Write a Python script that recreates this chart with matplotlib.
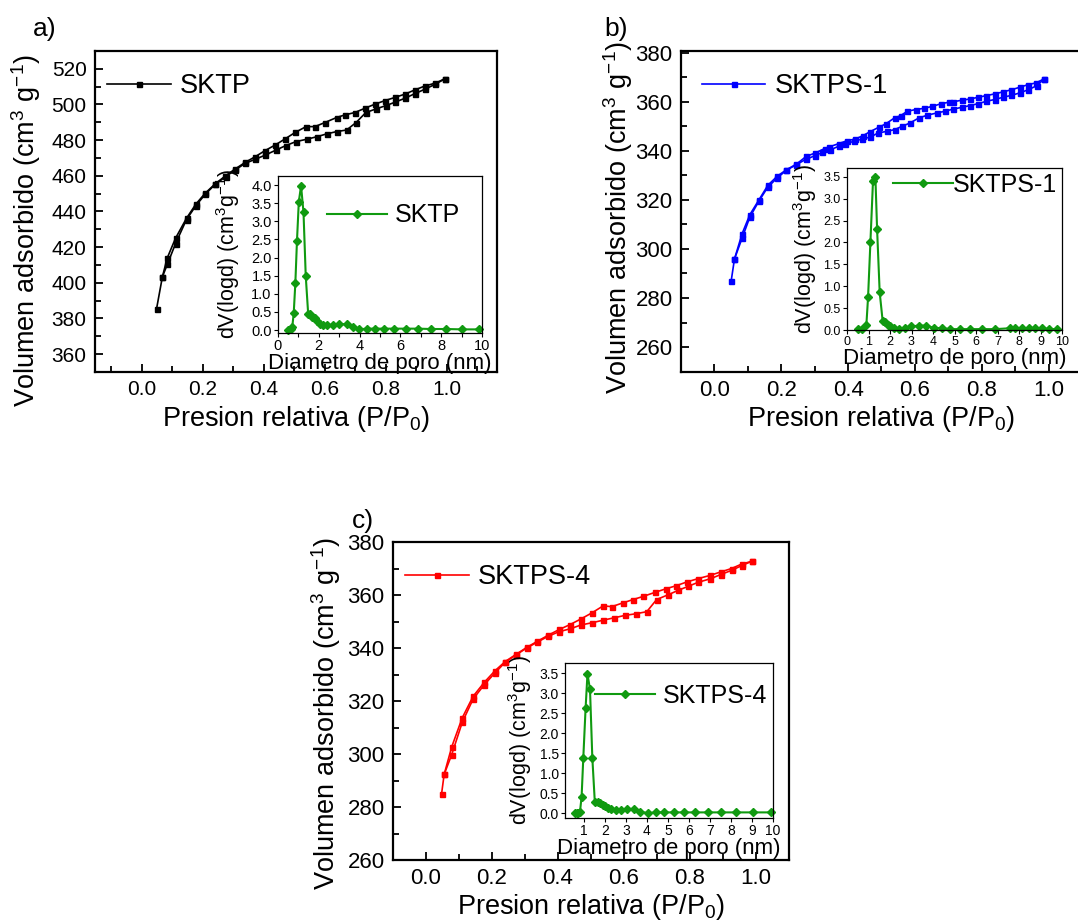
import numpy as np
import matplotlib
matplotlib.use('Agg')
import matplotlib.pyplot as plt
from matplotlib.ticker import MultipleLocator

plt.rcParams['font.family'] = 'Liberation Sans'
plt.rcParams['mathtext.fontset'] = 'custom'
plt.rcParams['mathtext.rm'] = 'Liberation Sans'
plt.rcParams['mathtext.it'] = 'Liberation Sans:italic'

# Isotherm data (P/P0, volume adsorbed)
a_ads_p = [0.048, 0.067, 0.083, 0.110, 0.146, 0.177, 0.207, 0.240, 0.274, 0.306, 0.338, 0.372, 0.405, 0.440, 0.472,
           0.505, 0.540, 0.575, 0.605, 0.638, 0.671, 0.702, 0.734, 0.767, 0.800, 0.830, 0.862, 0.895, 0.928, 0.962, 0.993]
a_ads_v = [385.6, 403.4, 410.3, 422.0, 435.5, 443.3, 449.6, 455.2, 459.5, 463.3, 467.0, 469.3, 471.7, 474.5, 477.0,
           479.2, 480.5, 482.0, 483.5, 484.8, 485.7, 489.9, 495.5, 497.5, 499.4, 501.3, 503.5, 506.1, 508.6, 511.4, 514.4]
a_des_p = [0.993, 0.962, 0.928, 0.895, 0.862, 0.830, 0.797, 0.764, 0.731, 0.698, 0.666, 0.638, 0.600, 0.567, 0.538,
           0.502, 0.469, 0.437, 0.403, 0.372, 0.339, 0.306, 0.273, 0.240, 0.207, 0.177, 0.146, 0.110, 0.083, 0.067]
a_des_v = [514.4, 512.0, 510.4, 508.2, 505.8, 504.0, 502.2, 500.2, 497.9, 495.5, 494.2, 492.7, 489.9, 487.6, 487.6,
           484.3, 480.7, 477.3, 474.1, 470.8, 467.6, 463.9, 459.9, 455.5, 450.2, 444.2, 436.2, 425.0, 414.0, 403.4]

b_ads_p = [0.050, 0.060, 0.083, 0.106, 0.133, 0.160, 0.188, 0.215, 0.245, 0.275, 0.302, 0.322, 0.347, 0.372, 0.392,
           0.417, 0.442, 0.467, 0.489, 0.515, 0.539, 0.562, 0.585, 0.612, 0.637, 0.665, 0.689, 0.715, 0.740, 0.764,
           0.789, 0.814, 0.839, 0.863, 0.889, 0.914, 0.939, 0.966, 0.986]
b_ads_v = [286.8, 295.9, 304.5, 313.0, 319.5, 325.3, 329.0, 332.1, 334.4, 336.7, 338.1, 339.4, 340.5, 341.9, 343.0,
           343.9, 344.9, 345.7, 347.3, 348.0, 348.7, 350.1, 351.4, 353.5, 354.6, 355.5, 356.2, 357.1, 357.8, 358.5,
           359.3, 360.3, 361.0, 361.9, 362.7, 363.7, 365.0, 366.7, 369.4]
b_des_p = [0.986, 0.963, 0.939, 0.914, 0.889, 0.863, 0.839, 0.814, 0.789, 0.764, 0.740, 0.715, 0.702, 0.679, 0.652,
           0.627, 0.602, 0.577, 0.557, 0.539, 0.512, 0.492, 0.465, 0.445, 0.422, 0.397, 0.372, 0.342, 0.330, 0.302,
           0.275, 0.245, 0.215, 0.188, 0.160, 0.133, 0.106, 0.083, 0.060]
b_des_v = [369.4, 367.8, 367.1, 366.0, 365.0, 364.1, 363.3, 362.6, 361.9, 361.2, 360.7, 360.1, 359.9, 359.3, 358.2,
           357.4, 356.9, 356.2, 354.4, 353.5, 351.0, 349.7, 347.8, 346.3, 344.9, 344.2, 343.0, 341.6, 341.0, 339.2,
           337.8, 334.6, 332.3, 329.7, 326.0, 320.0, 314.0, 306.3, 295.9]

c_ads_p = [0.047, 0.055, 0.078, 0.110, 0.143, 0.177, 0.209, 0.240, 0.273, 0.305, 0.337, 0.370, 0.404, 0.436, 0.470,
           0.502, 0.537, 0.570, 0.603, 0.635, 0.669, 0.699, 0.734, 0.765, 0.795, 0.825, 0.861, 0.893, 0.926, 0.957, 0.987]
c_ads_v = [284.8, 292.3, 299.8, 312.0, 320.8, 326.2, 330.6, 334.6, 337.4, 340.0, 342.2, 344.4, 346.2, 347.2, 348.7,
           349.5, 350.5, 351.4, 352.3, 352.9, 353.7, 358.3, 360.1, 361.8, 363.3, 364.8, 366.1, 367.7, 369.3, 371.1, 372.7]
c_des_p = [0.987, 0.957, 0.926, 0.893, 0.861, 0.825, 0.790, 0.758, 0.726, 0.694, 0.659, 0.628, 0.596, 0.563, 0.537,
           0.502, 0.470, 0.436, 0.404, 0.370, 0.337, 0.305, 0.273, 0.240, 0.209, 0.177, 0.143, 0.110, 0.078, 0.055]
c_des_v = [372.7, 371.7, 370.0, 368.7, 367.4, 366.2, 364.9, 363.5, 362.3, 361.0, 359.5, 358.3, 357.0, 355.6, 355.9,
           353.2, 351.0, 348.8, 347.0, 344.8, 342.5, 340.2, 337.6, 334.9, 331.4, 327.1, 321.8, 313.7, 302.7, 292.3]

# Pore size distributions (diameter nm, dV(logd))
a_psd_d = [0.49, 0.62, 0.70, 0.77, 0.85, 0.93, 1.02, 1.13, 1.25, 1.36, 1.48, 1.59, 1.69, 1.80, 1.92, 2.05, 2.21, 2.41,
           2.70, 3.00, 3.36, 3.66, 3.98, 4.34, 4.75, 5.21, 5.70, 6.26, 6.85, 7.50, 8.23, 9.03, 9.87]
a_psd_v = [0.01, 0.03, 0.09, 0.46, 1.29, 2.46, 3.54, 3.98, 3.25, 1.49, 0.44, 0.44, 0.37, 0.32, 0.26, 0.18, 0.14, 0.14,
           0.14, 0.17, 0.16, 0.09, 0.02, 0.04, 0.04, 0.04, 0.04, 0.04, 0.04, 0.03, 0.03, 0.02, 0.02]

b_psd_d = [0.50, 0.70, 0.90, 0.98, 1.09, 1.21, 1.32, 1.40, 1.52, 1.66, 1.78, 1.89, 2.02, 2.20, 2.43, 2.68, 2.98, 3.33,
           3.69, 4.03, 4.42, 4.81, 5.24, 5.74, 6.28, 6.90, 7.57, 7.83, 8.14, 8.45, 8.76, 9.07, 9.38, 9.77]
b_psd_v = [0.02, 0.02, 0.11, 0.75, 2.02, 3.41, 3.50, 2.30, 0.86, 0.20, 0.18, 0.11, 0.08, 0.04, 0.02, 0.04, 0.08, 0.10,
           0.10, 0.05, 0.04, 0.02, 0.02, 0.02, 0.02, 0.02, 0.04, 0.04, 0.04, 0.04, 0.04, 0.04, 0.02, 0.02]

c_psd_d = [0.57, 0.65, 0.73, 0.81, 0.89, 0.97, 1.08, 1.17, 1.29, 1.40, 1.52, 1.65, 1.76, 1.89, 2.00, 2.13, 2.31, 2.52,
           2.76, 3.07, 3.37, 3.69, 4.03, 4.41, 4.82, 5.28, 5.77, 6.31, 6.91, 7.54, 8.26, 9.05, 9.89]
c_psd_v = [0.00, 0.00, 0.00, 0.02, 0.41, 1.37, 2.62, 3.48, 3.09, 1.39, 0.27, 0.27, 0.25, 0.21, 0.17, 0.12, 0.10, 0.08,
           0.08, 0.10, 0.11, 0.04, 0.00, 0.02, 0.02, 0.02, 0.02, 0.02, 0.02, 0.02, 0.02, 0.02, 0.02]

green = '#109a10'
W, H = 1078, 922


def box(l, t, r, b):
    return [l / W, 1 - b / H, (r - l) / W, (b - t) / H]


fig = plt.figure(figsize=(W / 100, H / 100), dpi=100)


def main_panel(rect, ads_p, ads_v, des_p, des_v, color, name, xlim, ylim, yticks, fs, ylab_x, ylab_y, leg_x):
    ax = fig.add_axes(rect)
    ax.plot(ads_p, ads_v, '-s', color=color, ms=3.6, lw=1.2, label=name)
    ax.plot(des_p, des_v, '-s', color=color, ms=3.6, lw=1.2)
    ax.set_xlim(xlim)
    ax.set_ylim(ylim)
    ax.set_xticks([0.0, 0.2, 0.4, 0.6, 0.8, 1.0])
    ax.set_xticklabels(['0.0', '0.2', '0.4', '0.6', '0.8', '1.0'])
    ax.xaxis.set_minor_locator(MultipleLocator(0.1))
    ax.set_yticks(yticks)
    ax.yaxis.set_minor_locator(MultipleLocator(10))
    ax.tick_params(which='both', direction='in', top=False, right=False, width=1.3, labelsize=fs)
    ax.tick_params(which='major', length=6)
    ax.tick_params(which='minor', length=4)
    ax.tick_params(axis='y', pad=6)
    ax.tick_params(axis='x', pad=6)
    for s in ax.spines.values():
        s.set_linewidth(1.6)
    ax.set_xlabel('Presion relativa (P/P$_0$)', fontsize=19.5)
    ax.set_ylabel('Volumen adsorbido (cm$^3$ g$^{-1}$)', fontsize=19.5)
    ax.xaxis.set_label_coords(0.5, -0.10)
    ax.yaxis.set_label_coords(ylab_x, ylab_y)
    ax.legend(loc='center left', bbox_to_anchor=(leg_x, 0.89), frameon=False, fontsize=19.5, borderpad=0,
              borderaxespad=0, handlelength=2.35, handletextpad=0.35)
    return ax


def inset(rect, d, v, name, xlim, ylim, yticks, xticks, fs, ylab_x, leg_xy, textpad):
    ax = fig.add_axes(rect)
    ax.plot(d, v, '-D', color=green, ms=4.5, lw=1.5, label=name, clip_on=False)
    ax.set_xlim(xlim)
    ax.set_ylim(ylim)
    ax.set_yticks(yticks)
    ax.set_yticklabels(['%.1f' % t for t in yticks])
    ax.set_xticks(xticks)
    ax.tick_params(which='both', direction='out', length=3, width=0.8, labelsize=fs, pad=1.5)
    for s in ax.spines.values():
        s.set_linewidth(0.9)
    ax.set_xlabel('Diametro de poro (nm)', fontsize=16, labelpad=0)
    ax.set_ylabel('dV(logd) (cm$^3$g$^{-1}$)', fontsize=15.5)
    ax.yaxis.set_label_coords(ylab_x, 0.5)
    ax.legend(loc='center left', bbox_to_anchor=leg_xy, frameon=False, fontsize=18, borderpad=0,
              borderaxespad=0, handlelength=2.4, handletextpad=textpad)
    return ax


# a) SKTP
main_panel(box(95, 51, 497, 372), a_ads_p, a_ads_v, a_des_p, a_des_v, 'black', 'SKTP',
           (-0.154, 1.164), (350, 530), np.arange(360, 521, 20), 15, -0.13, 0.44, 0.03)
ia = inset(box(278, 176, 482, 333), a_psd_d, a_psd_v, 'SKTP', (0, 10), (-0.08, 4.25),
           np.arange(0, 4.01, 0.5), [0, 2, 4, 6, 8, 10], 10.5, -0.175, (0.24, 0.75), 0.3)
ia.xaxis.set_minor_locator(MultipleLocator(1))

# b) SKTPS-1
main_panel(box(681, 51, 1082, 372), b_ads_p, b_ads_v, b_des_p, b_des_v, 'blue', 'SKTPS-1',
           (-0.1, 1.1), (249.8, 380.8), np.arange(260, 381, 20), 16, -0.115, 0.48, 0.052)
inset(box(847, 168, 1062, 330), b_psd_d, b_psd_v, 'SKTPS-1', (0, 10), (0, 3.7),
      np.arange(0, 3.51, 0.5), list(range(0, 11)), 9, -0.13, (0.214, 0.895), 0.0)

# c) SKTPS-4
main_panel(box(393, 542, 789, 860), c_ads_p, c_ads_v, c_des_p, c_des_v, 'red', 'SKTPS-4',
           (-0.1, 1.1), (260, 380), np.arange(260, 381, 20), 16, -0.126, 0.46, 0.03)
inset(box(565, 663, 773, 818), c_psd_d, c_psd_v, 'SKTPS-4', (0.1, 10), (-0.12, 3.75),
      np.arange(0, 3.51, 0.5), list(range(1, 11)), 10, -0.15, (0.144, 0.787), 0.3)

fig.text(33 / W, 1 - 36 / H, 'a)', fontsize=19, va='baseline')
fig.text(604 / W, 1 - 36 / H, 'b)', fontsize=19, va='baseline')
fig.text(352 / W, 1 - 528 / H, 'c)', fontsize=19, va='baseline')

fig.savefig('out.png', dpi=100)
